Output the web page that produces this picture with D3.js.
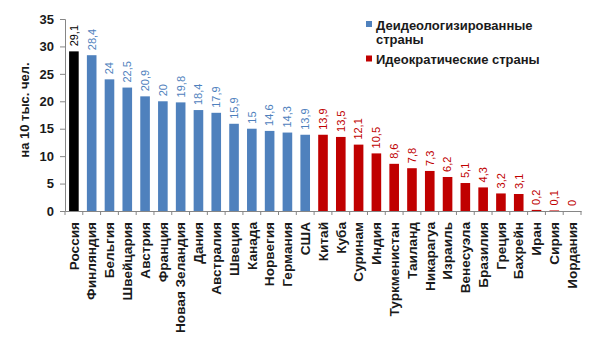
<!DOCTYPE html>
<html>
<head>
<meta charset="utf-8">
<script src="https://cdn.jsdelivr.net/npm/d3@7"></script>
<style>
  body { margin: 0; background: #fff; }
  svg { font-family: "Liberation Sans", Arial, sans-serif; }
</style>
</head>
<body>
<div id="chart"></div>
<script>
  const countries = ['Россия', 'Финляндия', 'Бельгия', 'Швейцария', 'Австрия', 'Франция', 'Новая Зеландия',
    'Дания', 'Австралия', 'Швеция', 'Канада', 'Норвегия', 'Германия', 'США',
    'Китай', 'Куба', 'Суринам', 'Индия', 'Туркменистан', 'Таиланд', 'Никарагуа', 'Израиль',
    'Венесуэла', 'Бразилия', 'Греция', 'Бахрейн', 'Иран', 'Сирия', 'Иордания'];
  const values = [29.1, 28.4, 24, 22.5, 20.9, 20, 19.8, 18.4, 17.9, 15.9, 15, 14.6, 14.3, 13.9,
    13.9, 13.5, 12.1, 10.5, 8.6, 7.8, 7.3, 6.2, 5.1, 4.3, 3.2, 3.1, 0.2, 0.1, 0];
  // группа: 0 - Россия, 1 - деидеологизированные, 2 - идеократические
  const groups = [0, 1, 1, 1, 1, 1, 1, 1, 1, 1, 1, 1, 1, 1,
    2, 2, 2, 2, 2, 2, 2, 2, 2, 2, 2, 2, 2, 2, 2];
  const yTicks = [0, 5, 10, 15, 20, 25, 30, 35];
  const legendLabels = [['Деидеологизированные', 'страны'], ['Идеократические страны']];
  const axisTitle = 'на 10 тыс. чел.';

  const COLORS = ['#000000', '#4f81bd', '#c00000'];
  const width = 600;
  const height = 351;
  const margin = { top: 19, right: 20, bottom: 140, left: 65 };

  const data = countries.map((name, i) => ({ name, value: values[i], group: groups[i] }));

  const svg = d3.select('#chart')
    .append('svg')
    .attr('width', width)
    .attr('height', height);

  const x = d3.scaleBand()
    .domain(countries)
    .range([margin.left, 581])
    .paddingInner(0.46)
    .paddingOuter(0.23);
  const y = d3.scaleLinear()
    .domain([0, 35])
    .range([height - margin.bottom, margin.top]);

  svg.selectAll('.bar')
    .data(data)
    .enter()
    .append('rect')
    .attr('class', 'bar')
    .attr('x', (d) => x(d.name))
    .attr('y', (d) => y(d.value))
    .attr('width', x.bandwidth())
    .attr('height', (d) => y(0) - y(d.value))
    .attr('fill', (d) => COLORS[d.group]);

  svg.selectAll('.val')
    .data(data)
    .enter()
    .append('text')
    .attr('class', 'val')
    .attr('transform', (d) => `translate(${x(d.name) + x.bandwidth() / 2},${y(d.value) - 5}) rotate(-90)`)
    .attr('dy', '0.35em')
    .attr('font-size', 11)
    .attr('fill', (d) => COLORS[d.group])
    .text((d) => String(d.value).replace('.', ','));

  // y axis
  const yAxis = svg.append('g')
    .attr('transform', `translate(${margin.left},0)`)
    .call(d3.axisLeft(y).tickValues(yTicks).tickSize(5).tickPadding(6));
  yAxis.select('.domain').attr('stroke', '#868686');
  yAxis.selectAll('.tick line').attr('stroke', '#868686');
  yAxis.selectAll('.tick text')
    .attr('font-size', 13)
    .attr('font-weight', 'bold')
    .attr('fill', '#1a1a1a')
    .attr('font-family', '"Liberation Sans", Arial, sans-serif');

  // x axis
  const xAxis = svg.append('g')
    .attr('transform', `translate(0,${y(0)})`)
    .call(d3.axisBottom(x).tickSize(0).tickPadding(0));
  xAxis.select('.domain').attr('stroke', '#868686');
  xAxis.selectAll('.tick text')
    .attr('transform', 'rotate(-90)')
    .attr('text-anchor', 'end')
    .attr('x', -11)
    .attr('y', 0)
    .attr('dy', '0.35em')
    .attr('font-size', 13.6)
    .attr('font-weight', 'bold')
    .attr('fill', '#1a1a1a')
    .attr('font-family', '"Liberation Sans", Arial, sans-serif');

  // tick marks between categories
  const step = x.step();
  const start = x(countries[0]) - (x.paddingInner() * step) / 2;
  const bounds = d3.range(countries.length + 1).map((i) => start + i * step);
  svg.append('g')
    .selectAll('line')
    .data(bounds)
    .enter()
    .append('line')
    .attr('x1', (d) => d)
    .attr('x2', (d) => d)
    .attr('y1', y(0))
    .attr('y2', y(0) + 4)
    .attr('stroke', '#868686');

  // axis title
  svg.append('text')
    .attr('transform', `translate(24,${(y(35) + y(0)) / 2 - 5}) rotate(-90)`)
    .attr('text-anchor', 'middle')
    .attr('dy', '0.35em')
    .attr('font-size', 13)
    .attr('font-weight', 'bold')
    .attr('fill', '#1a1a1a')
    .text(axisTitle);

  // legend
  const legend = svg.append('g').attr('transform', 'translate(366,21)');
  legendLabels.forEach((lines, i) => {
    const g = legend.append('g').attr('transform', `translate(0,${i * 34.5})`);
    g.append('rect')
      .attr('width', 6)
      .attr('height', 6)
      .attr('fill', COLORS[i + 1]);
    lines.forEach((line, j) => {
      g.append('text')
        .attr('x', 10)
        .attr('y', 8.5 + j * 14)
        .attr('font-size', 13)
        .attr('font-weight', 'bold')
        .attr('fill', '#1a1a1a')
        .text(line);
    });
  });
</script>
</body>
</html>
